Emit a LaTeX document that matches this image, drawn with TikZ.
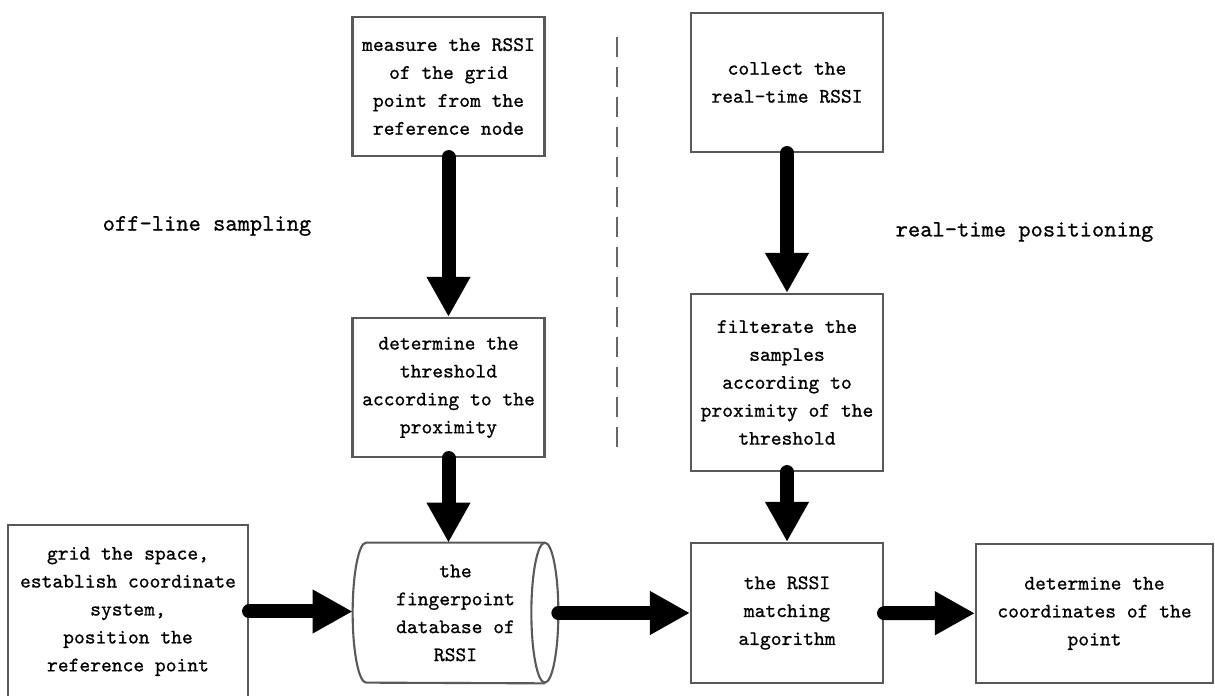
\documentclass[tikz,border=0pt]{standalone}
\usepackage{fontspec}
\newfontfamily\boxfont{lmmono10-regular.otf}[FakeBold=0.8]
\usetikzlibrary{arrows.meta}
\begin{document}
\begin{tikzpicture}[
  every node/.style={font=\boxfont\fontsize{11.7}{15.9}\selectfont},
  stepbox/.style={draw=black!65, line width=1.2pt, align=center, minimum width=3.84cm, minimum height=2.78cm, inner sep=2pt},
  flow/.style={line width=0.28cm, line cap=round, -{Triangle[length=0.8cm, width=0.82cm]}},
  phase/.style={font=\boxfont\fontsize{13.3}{16}\selectfont},
]
\path[use as bounding box, clip] (0,0) rectangle (24.3,13.92);
\def\erx{0.27cm}

\node[stepbox] (mrssi) at (8.97,12.19) {measure the RSSI\\of the grid\\point from the\\reference node};
\node[stepbox] (thresh) at (8.97,6.17) {determine the\\threshold\\according to the\\proximity};

\node[stepbox] (collect) at (15.74,12.27) {collect the\\real-time RSSI};
\node[stepbox, minimum height=3.54cm] (filt) at (15.74,6.27) {filterate the\\samples\\according to\\proximity of the\\threshold};

\node[stepbox, minimum width=4.8cm, minimum height=3.46cm] (gridsp) at (2.56,1.69) {grid the space,\\establish coordinate\\system,\\position the\\reference point};
\node[align=center, minimum width=4.1cm, minimum height=2.8cm, inner sep=0pt] (fpdb) at (9.11,1.66) {the\\fingerpoint\\database of\\RSSI};
\draw[draw=black!65, line width=1.2pt] ([xshift=-\erx]fpdb.north east) arc[start angle=90, end angle=450, x radius=\erx, y radius=1.4cm];
\draw[draw=black!65, line width=1.2pt] ([xshift=-\erx]fpdb.north east) -- ([xshift=\erx]fpdb.north west)
  arc[start angle=90, end angle=270, x radius=\erx, y radius=1.4cm] -- ([xshift=-\erx]fpdb.south east);
\node[stepbox, minimum height=2.8cm] (match) at (15.74,1.66) {the RSSI\\matching\\algorithm};
\node[stepbox, minimum width=4.74cm] (coords) at (21.89,1.65) {determine the\\coordinates of the\\point};

\node[phase] (offline) at (4.14,9.40) {off-line sampling};
\node[phase] (realtime) at (20.49,9.28) {real-time positioning};

\coordinate (dtop) at (12.34,13.18);
\coordinate (dbot) at (12.34,4.94);
\draw[draw=black!60, line width=1.1pt, dash pattern=on 0.4cm off 0.2cm] (dtop) -- (dbot);

\draw[flow] (mrssi) -- (thresh);
\draw[flow] (thresh) -- (thresh |- fpdb.north);
\draw[flow] (collect) -- (filt);
\draw[flow] (filt) -- (match);
\draw[flow] (gridsp.east) -- (gridsp.east -| fpdb.west);
\draw[flow] (fpdb) -- (match);
\draw[flow] (match) -- (coords);
\end{tikzpicture}
\end{document}
